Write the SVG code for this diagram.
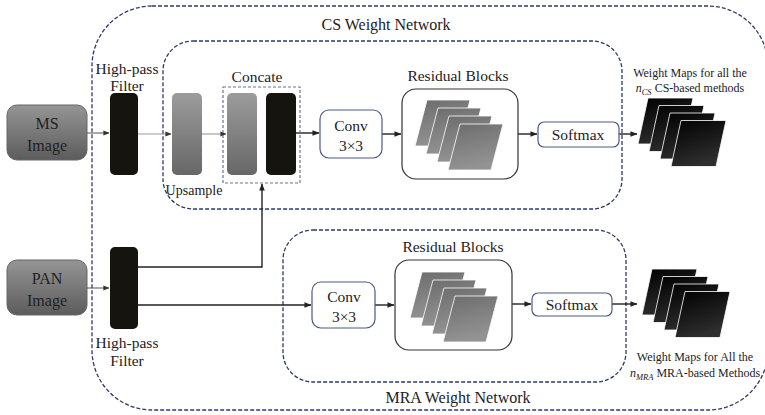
<svg xmlns="http://www.w3.org/2000/svg" xmlns:xlink="http://www.w3.org/1999/xlink" width="765" height="415" viewBox="0 0 765 415">
  <style>
    text { font-family: "Liberation Serif", "Times New Roman", serif; fill: #222; text-anchor: middle; }
    .lbl { font-size: 15.5px; }
    .big { font-size: 16px; }
    .small { font-size: 12px; }
    .net { fill: none; stroke: #2d3a66; stroke-width: 1.3; stroke-dasharray: 4 2; }
    .concat { fill: none; stroke: #6d7392; stroke-width: 1.2; stroke-dasharray: 3 2; }
    .op { fill: #fff; stroke: #4b5a82; stroke-width: 1.2; }
    .res { fill: #fff; stroke: #333; stroke-width: 1.2; }
    .blk { fill: #15140f; }
    .gry { fill: url(#gGray); }
    .img { fill: url(#gImg); stroke: #666; stroke-width: 1; }
    .wire { fill: none; stroke: #222; stroke-width: 1.4; }
    .thin { fill: none; stroke: #555; stroke-width: 1; }
    .pale { fill: none; stroke: #999; stroke-width: 1.1; }
  </style>
  <defs>
    <linearGradient id="gGray" x1="0" y1="0" x2="0" y2="1">
      <stop offset="0" stop-color="#9c9c9c"/>
      <stop offset="1" stop-color="#676767"/>
    </linearGradient>
    <linearGradient id="gImg" x1="0" y1="0" x2="0" y2="1">
      <stop offset="0" stop-color="#959595"/>
      <stop offset="1" stop-color="#5c5c5c"/>
    </linearGradient>
    <linearGradient id="gPlate" x1="0" y1="0" x2="0.3" y2="1">
      <stop offset="0" stop-color="#6c6c6c"/>
      <stop offset="1" stop-color="#939393"/>
    </linearGradient>
    <linearGradient id="gMap" x1="0" y1="0" x2="0.4" y2="1">
      <stop offset="0" stop-color="#000"/>
      <stop offset="1" stop-color="#2e2e2e"/>
    </linearGradient>
    <marker id="ah" viewBox="0 0 8 8" refX="7.5" refY="4" markerWidth="7" markerHeight="7" markerUnits="userSpaceOnUse" orient="auto">
      <path d="M0,0.8 L8,4 L0,7.2 Z" fill="#222"/>
    </marker>
    <marker id="ahs" viewBox="0 0 8 8" refX="7.5" refY="4" markerWidth="6" markerHeight="6" markerUnits="userSpaceOnUse" orient="auto">
      <path d="M0,0.8 L8,4 L0,7.2 Z" fill="#333"/>
    </marker>
    <!-- one feature plate of a residual stack -->
    <path id="plate" d="M12,0 L55,0 L43,46 L0,46 Z" fill="url(#gPlate)" stroke="#fff" stroke-width="0.8"/>
    <g id="resStack">
      <use xlink:href="#plate" x="0" y="0"/>
      <use xlink:href="#plate" x="11" y="8"/>
      <use xlink:href="#plate" x="22" y="16"/>
      <use xlink:href="#plate" x="33" y="24"/>
    </g>
    <!-- one output weight map -->
    <path id="map" d="M10,0 L55,0 L45,46 L0,46 Z" fill="url(#gMap)" stroke="#fff" stroke-width="0.8"/>
    <g id="mapStack">
      <use xlink:href="#map" x="0" y="0"/>
      <use xlink:href="#map" x="11" y="7.5"/>
      <use xlink:href="#map" x="22" y="15"/>
      <use xlink:href="#map" x="33" y="22.5"/>
    </g>
  </defs>

  <!-- network frames -->
  <g id="frames">
    <rect class="net" x="92" y="6" width="676" height="404" rx="60"/>
    <text class="big" x="386" y="30">CS Weight Network</text>
    <rect class="net" x="163" y="41" width="459" height="168" rx="30"/>
    <rect class="net" x="283" y="230" width="343" height="152" rx="30"/>
    <text class="big" x="458" y="403">MRA Weight Network</text>
  </g>

  <!-- connectors -->
  <g id="connectors">
    <line class="thin" x1="87" y1="133" x2="109" y2="133" marker-end="url(#ahs)"/>
    <line class="pale" x1="138" y1="134" x2="171" y2="134" marker-end="url(#ahs)"/>
    <line class="pale" x1="202" y1="134" x2="226" y2="134" marker-end="url(#ahs)"/>
    <line class="wire" x1="296" y1="133" x2="319" y2="133" marker-end="url(#ah)"/>
    <line class="wire" x1="382" y1="134" x2="401" y2="134" marker-end="url(#ah)"/>
    <line class="wire" x1="518" y1="134" x2="537" y2="134" marker-end="url(#ah)"/>
    <line class="wire" x1="619" y1="134" x2="637" y2="134" marker-end="url(#ah)"/>
    <line class="thin" x1="87" y1="288" x2="109" y2="288" marker-end="url(#ahs)"/>
    <polyline class="wire" points="138,267 262,267 262,184" marker-end="url(#ah)"/>
    <line class="wire" x1="138" y1="305" x2="311" y2="305" marker-end="url(#ah)"/>
    <line class="wire" x1="375" y1="305" x2="394" y2="305" marker-end="url(#ah)"/>
    <line class="wire" x1="512" y1="304" x2="531" y2="304" marker-end="url(#ah)"/>
    <line class="wire" x1="612" y1="304" x2="637" y2="304" marker-end="url(#ah)"/>
  </g>

  <!-- inputs -->
  <g id="ms-image">
    <rect class="img" x="7" y="105" width="80" height="55" rx="10"/>
    <text class="big" x="47" y="129">MS</text>
    <text class="big" x="47" y="151">Image</text>
  </g>
  <g id="pan-image">
    <rect class="img" x="7" y="260" width="80" height="55" rx="10"/>
    <text class="big" x="47" y="284">PAN</text>
    <text class="big" x="47" y="306">Image</text>
  </g>

  <!-- high-pass filters -->
  <g id="hpf-ms">
    <text class="lbl" x="127" y="74">High-pass</text>
    <text class="lbl" x="127" y="91">Filter</text>
    <rect class="blk" x="110" y="93" width="28" height="82" rx="5"/>
  </g>
  <g id="hpf-pan">
    <rect class="blk" x="110" y="247" width="28" height="82" rx="5"/>
    <text class="lbl" x="127" y="348">High-pass</text>
    <text class="lbl" x="127" y="366">Filter</text>
  </g>

  <!-- CS branch -->
  <g id="upsample">
    <rect class="gry" x="172" y="93" width="30" height="82" rx="5"/>
    <text x="194" y="195" style="font-size:14px">Upsample</text>
  </g>
  <g id="concate">
    <text class="lbl" x="257" y="82">Concate</text>
    <rect class="concat" x="223" y="87" width="77" height="96"/>
    <rect class="gry" x="227" y="93" width="30" height="82" rx="5"/>
    <rect class="blk" x="266" y="93" width="30" height="82" rx="5"/>
  </g>
  <g id="conv-cs">
    <rect class="op" x="320" y="110" width="62" height="48" rx="9"/>
    <text class="lbl" x="351" y="131">Conv</text>
    <text class="lbl" x="351" y="151">3×3</text>
  </g>
  <g id="res-cs">
    <text class="lbl" x="458" y="81">Residual Blocks</text>
    <rect class="res" x="402" y="89" width="116" height="90" rx="14"/>
    <use xlink:href="#resStack" x="415" y="100"/>
  </g>
  <g id="softmax-cs">
    <rect class="op" x="538" y="122" width="81" height="25" rx="6"/>
    <text class="lbl" x="578" y="140">Softmax</text>
  </g>
  <g id="maps-cs">
    <text class="small" x="690" y="77">Weight Maps for all the</text>
    <text class="small" x="690" y="92"><tspan font-style="italic">n</tspan><tspan font-style="italic" font-size="8.5px" dy="2.5">CS</tspan><tspan dy="-2.5"> CS-based methods</tspan></text>
    <use xlink:href="#mapStack" x="638" y="98"/>
  </g>

  <!-- MRA branch -->
  <g id="conv-mra">
    <rect class="op" x="312" y="282" width="63" height="46" rx="9"/>
    <text class="lbl" x="344" y="302">Conv</text>
    <text class="lbl" x="344" y="322">3×3</text>
  </g>
  <g id="res-mra">
    <text class="lbl" x="453" y="252">Residual Blocks</text>
    <rect class="res" x="395" y="260" width="117" height="90" rx="14"/>
    <use xlink:href="#resStack" x="410" y="272"/>
  </g>
  <g id="softmax-mra">
    <rect class="op" x="532" y="293" width="80" height="23" rx="6"/>
    <text class="lbl" x="572" y="310">Softmax</text>
  </g>
  <g id="maps-mra">
    <use xlink:href="#mapStack" x="642" y="269"/>
    <text class="small" x="695" y="361">Weight Maps for All the</text>
    <text class="small" x="695" y="377"><tspan font-style="italic">n</tspan><tspan font-style="italic" font-size="8.5px" dy="2.5">MRA</tspan><tspan dy="-2.5"> MRA-based Methods</tspan></text>
  </g>
</svg>
